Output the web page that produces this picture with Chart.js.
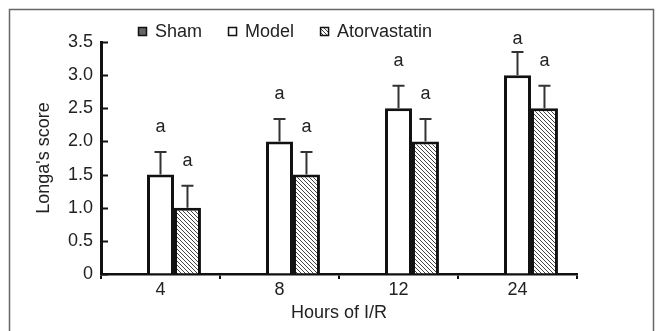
<!DOCTYPE html>
<html>
<head>
<meta charset="utf-8">
<script src="https://cdn.jsdelivr.net/npm/chart.js@4/dist/chart.umd.min.js"></script>
<style>
  html, body { margin: 0; padding: 0; background: #fff; }
  #wrap { width: 656px; height: 331px; }
</style>
</head>
<body>
<div id="wrap"><canvas id="myChart" width="656" height="331"></canvas></div>
<script>
const hours = ["4", "8", "12", "24"];
const seriesNames = ["Sham", "Model", "Atorvastatin"];

const shamScores = [0, 0, 0, 0];
const modelScores = [1.5, 2.0, 2.5, 3.0];
const atorvaScores = [1.0, 1.5, 2.0, 2.5];

const modelSD = [0.34, 0.34, 0.34, 0.35];
const atorvaSD = [0.33, 0.34, 0.34, 0.34];

const modelSig = ["a", "a", "a", "a"];
const atorvaSig = ["a", "a", "a", "a"];

const yMin = 0;
const yMax = 3.5;
const yStep = 0.5;

const textColor = "#222";
const fontFamily = 'Arial, "Liberation Sans", sans-serif';

// diagonal hatch for the atorvastatin bars
const makeHatch = () => {
  const c = document.createElement("canvas");
  c.width = 4;
  c.height = 4;
  const g = c.getContext("2d");
  g.fillStyle = "#fff";
  g.fillRect(0, 0, 4, 4);
  g.strokeStyle = "#444";
  g.lineWidth = 1;
  g.beginPath();
  g.moveTo(-1, -1);
  g.lineTo(5, 5);
  g.moveTo(3, -1);
  g.lineTo(5, 1);
  g.moveTo(-1, 3);
  g.lineTo(1, 5);
  g.stroke();
  return g.createPattern(c, "repeat");
};
const hatch = makeHatch();

const framePlugin = {
  id: "frame",
  beforeDraw(chart) {
    const ctx = chart.ctx;
    ctx.save();
    ctx.strokeStyle = "#666";
    ctx.lineWidth = 1.5;
    ctx.strokeRect(9.5, 9.5, 644, 340);
    ctx.restore();
  },
};

// inward ticks on the y axis
const yTickPlugin = {
  id: "yTicksIn",
  afterDraw(chart) {
    const ctx = chart.ctx;
    const y = chart.scales.y;
    const left = chart.chartArea.left;
    ctx.save();
    ctx.strokeStyle = "#111";
    ctx.lineWidth = 2;
    y.ticks.forEach((t) => {
      const py = Math.round(y.getPixelForValue(t.value)) + 0.5;
      ctx.beginPath();
      ctx.moveTo(left, py);
      ctx.lineTo(left + 7, py);
      ctx.stroke();
    });
    ctx.restore();
  },
};

const errorPlugin = {
  id: "errorBars",
  afterDatasetsDraw(chart) {
    const ctx = chart.ctx;
    const y = chart.scales.y;
    ctx.save();
    chart.data.datasets.forEach((ds, i) => {
      if (!ds.errors) return;
      const meta = chart.getDatasetMeta(i);
      meta.data.forEach((bar, j) => {
        const top = y.getPixelForValue(ds.data[j] + ds.errors[j]);
        ctx.strokeStyle = "#333";
        ctx.lineWidth = 2;
        ctx.beginPath();
        ctx.moveTo(bar.x, bar.y);
        ctx.lineTo(bar.x, top);
        ctx.moveTo(bar.x - 6, top);
        ctx.lineTo(bar.x + 6, top);
        ctx.stroke();
        if (ds.sig && ds.sig[j]) {
          // keep the letter from climbing above the plot top
          const ly = Math.max(top - 25, chart.chartArea.top - 3);
          ctx.fillStyle = textColor;
          ctx.font = "18px " + fontFamily;
          ctx.textAlign = "center";
          ctx.textBaseline = "middle";
          ctx.fillText(ds.sig[j], bar.x, ly);
        }
      });
    });
    ctx.restore();
  },
};

const legendPlugin = {
  id: "boxLegend",
  afterDraw(chart) {
    const ctx = chart.ctx;
    ctx.save();
    ctx.font = "18px " + fontFamily;
    ctx.textBaseline = "middle";
    ctx.textAlign = "left";
    let x = 138;
    const cy = 31;
    chart.data.datasets.forEach((ds) => {
      ctx.fillStyle = ds.backgroundColor;
      ctx.fillRect(x, cy - 4, 9, 9);
      ctx.strokeStyle = "#111";
      ctx.lineWidth = 1.5;
      ctx.strokeRect(x + 0.5, cy - 3.5, 8, 8);
      ctx.fillStyle = textColor;
      ctx.fillText(ds.label, x + 17, cy + 1);
      x += 17 + ctx.measureText(ds.label).width + 26;
    });
    ctx.restore();
  },
};

const ctx = document.getElementById("myChart").getContext("2d");
const myChart = new Chart(ctx, {
  type: "bar",
  data: {
    labels: hours,
    datasets: [
      {
        label: seriesNames[0],
        data: shamScores,
        backgroundColor: "#666",
        borderWidth: 0,
      },
      {
        label: seriesNames[1],
        data: modelScores,
        errors: modelSD,
        sig: modelSig,
        backgroundColor: "#fff",
        borderColor: "#111",
        borderWidth: 3,
      },
      {
        label: seriesNames[2],
        data: atorvaScores,
        errors: atorvaSD,
        sig: atorvaSig,
        backgroundColor: hatch,
        borderColor: "#111",
        borderWidth: 3,
      },
    ],
  },
  options: {
    responsive: false,
    animation: false,
    events: [],
    layout: { padding: { top: 42, right: 79, left: 0, bottom: 0 } },
    datasets: {
      bar: { categoryPercentage: 0.68, barPercentage: 1.0 },
    },
    plugins: {
      legend: { display: false },
      tooltip: { enabled: false },
    },
    scales: {
      x: {
        grid: {
          offset: true,
          drawOnChartArea: false,
          drawTicks: true,
          tickLength: 5,
          color: "#111",
          lineWidth: 2,
        },
        border: { display: true, color: "#111", width: 2.5 },
        ticks: {
          color: textColor,
          font: { size: 18, family: fontFamily },
          padding: 0,
          maxRotation: 0,
        },
        title: {
          display: true,
          text: "Hours of I/R",
          color: textColor,
          font: { size: 18, family: fontFamily },
          padding: { top: 0, bottom: 7 },
        },
        afterFit: (scale) => {
          scale.height = 57;
        },
      },
      y: {
        min: yMin,
        max: yMax,
        grid: { display: true, drawOnChartArea: false, drawTicks: false },
        border: { display: true, color: "#111", width: 3 },
        ticks: {
          stepSize: yStep,
          color: textColor,
          font: { size: 18, family: fontFamily },
          padding: 8,
          callback: (v) => (v === 0 ? "0" : v.toFixed(1)),
        },
        title: {
          display: true,
          text: "Longa's score",
          color: textColor,
          font: { size: 18, family: fontFamily },
          padding: { top: 33, bottom: 0 },
        },
        afterFit: (scale) => {
          scale.width = 101;
        },
      },
    },
  },
  plugins: [framePlugin, yTickPlugin, errorPlugin, legendPlugin],
});
</script>
</body>
</html>
